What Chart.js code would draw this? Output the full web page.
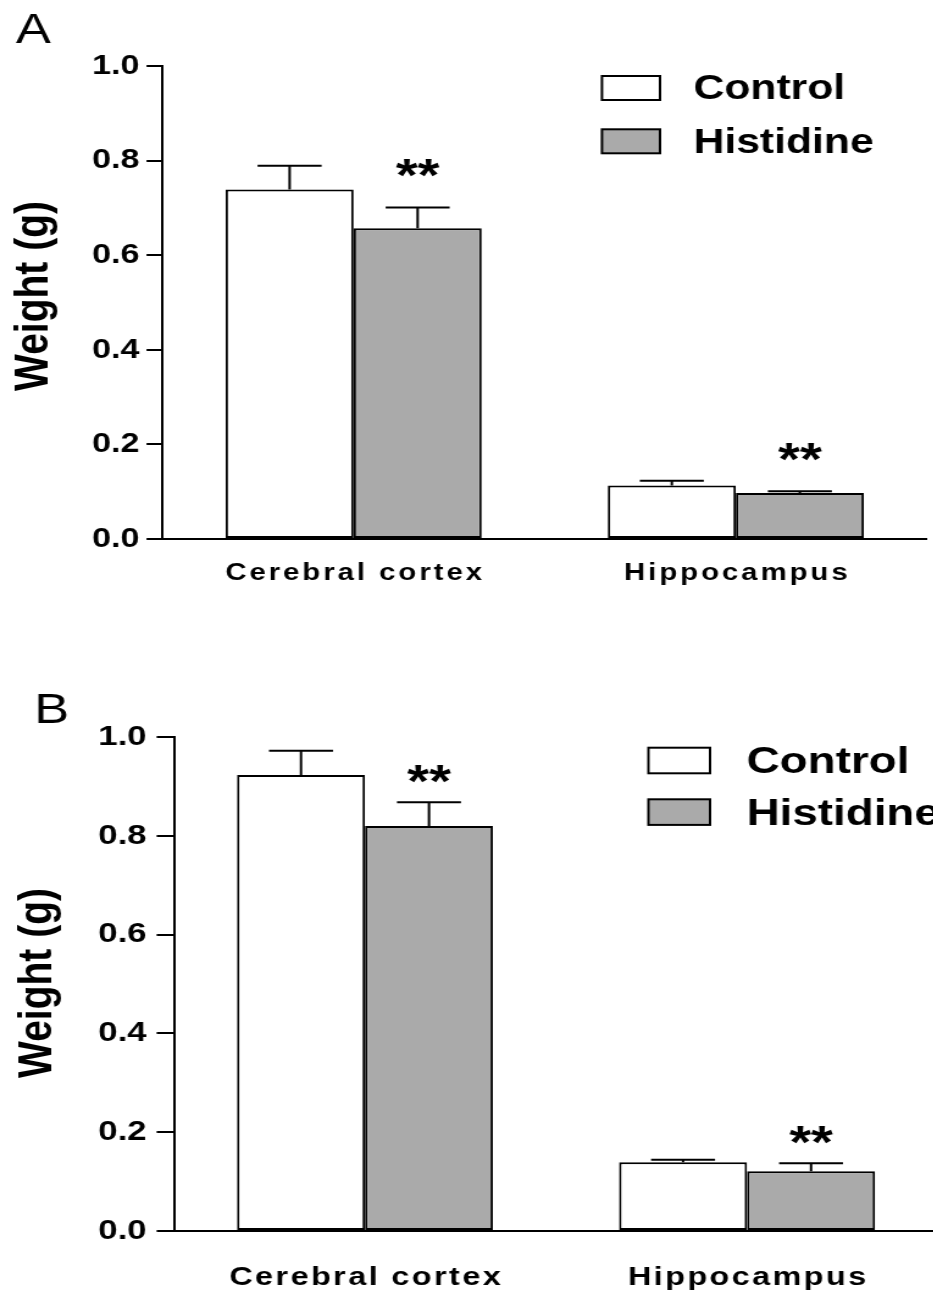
<!DOCTYPE html>
<html>
<head>
<meta charset="utf-8">
<script src="https://cdn.jsdelivr.net/npm/chart.js@4.4.1/dist/chart.umd.min.js"></script>
<style>
  html, body { margin:0; padding:0; background:#fff; width:933px; height:1295px; overflow:hidden; }
  .wrap { position:absolute; left:0; transform:scaleX(1.22); transform-origin:0 0; }
  #wrapA { top:0; width:765px; height:640px; }
  #wrapB { top:650px; width:770px; height:645px; }
</style>
</head>
<body>
<div class="wrap" id="wrapA"><canvas id="chartA"></canvas></div>
<div class="wrap" id="wrapB"><canvas id="chartB"></canvas></div>
<script>
'use strict';
// ---- data ----
var categories  = ['Cerebral cortex', 'Hippocampus'];
var seriesNames = ['Control', 'Histidine'];
var yTicks      = [0, 0.2, 0.4, 0.6, 0.8, 1.0];

// panel A
var controlA      = [0.739, 0.113];
var controlSemA   = [0.050, 0.010];
var histidineA    = [0.657, 0.097];
var histidineSemA = [0.044, 0.004];
var sigA          = ['**', '**'];

// panel B
var controlB      = [0.923, 0.139];
var controlSemB   = [0.049, 0.005];
var histidineB    = [0.820, 0.121];
var histidineSemB = [0.048, 0.016];
var sigB          = ['**', '**'];

var FONT = "'Liberation Sans', Arial, sans-serif";

// layout per panel (canvas units, before the horizontal stretch)
var layoutA = {
  letter:'A', letterX:13.1, letterY:43.3,
  top:66, right:5.2, xHeight:101, axisX:133.2, tickLen:13.1, tickPad:5.7, tickFont:28,
  catY:580, catFont:24, catSpace:2.45,
  titleX:39.3, titleY:296, titleFont:39,
  starFont:46, starGap:16,
  legX:493.4, legW:47.6, legH:24, legRows:[76, 129.3], legBase:23.4, legTextX:568.4, legFont:35
};
var layoutB = {
  letter:'B', letterX:27.9, letterY:73.3,
  top:87, right:1.1, xHeight:64, axisX:142.6, tickLen:14.2, tickPad:8.2, tickFont:28.5,
  catY:635, catFont:26.5, catSpace:2.0,
  titleX:42.2, titleY:333, titleFont:39,
  starFont:46, starGap:5,
  legX:531.5, legW:50.5, legH:25.6, legRows:[97.7, 149.3], legBase:25.2, legTextX:612, legFont:37.5
};

function spacedText(ctx, str, cx, y, sp) {
  var w = 0, i;
  for (i = 0; i < str.length; i++) w += ctx.measureText(str[i]).width;
  w += sp * (str.length - 1);
  var x = cx - w / 2;
  ctx.textAlign = 'left';
  for (i = 0; i < str.length; i++) {
    ctx.fillText(str[i], x, y);
    x += ctx.measureText(str[i]).width + sp;
  }
}

function annotPlugin(L) {
  return {
    id: 'annot',
    afterDatasetsDraw: function(chart) {
      var ctx = chart.ctx, ys = chart.scales.y;
      ctx.save();
      ctx.strokeStyle = '#000'; ctx.fillStyle = '#000'; ctx.lineWidth = 2;
      chart.data.datasets.forEach(function(ds, i) {
        chart.getDatasetMeta(i).data.forEach(function(bar, j) {
          var top = ys.getPixelForValue(ds.data[j]);
          var cap = ys.getPixelForValue(ds.data[j] + ds.sem[j]);
          var hw = bar.width / 4;
          ctx.beginPath();
          ctx.moveTo(bar.x, top); ctx.lineTo(bar.x, cap);
          ctx.moveTo(bar.x - hw, cap); ctx.lineTo(bar.x + hw, cap);
          ctx.stroke();
          if (ds.sig && ds.sig[j]) {
            ctx.font = 'bold ' + L.starFont + 'px ' + FONT;
            ctx.textAlign = 'center'; ctx.textBaseline = 'alphabetic';
            ctx.fillText(ds.sig[j], bar.x, cap - L.starGap);
          }
        });
      });
      ctx.restore();
    },
    afterDraw: function(chart) {
      var ctx = chart.ctx, xs = chart.scales.x;
      ctx.save();
      ctx.fillStyle = '#000'; ctx.textBaseline = 'alphabetic';
      // panel letter
      ctx.font = '43px ' + FONT;
      ctx.textAlign = 'left';
      ctx.fillText(L.letter, L.letterX, L.letterY);
      // category labels
      ctx.font = 'bold ' + L.catFont + 'px ' + FONT;
      categories.forEach(function(c, i) {
        spacedText(ctx, c, xs.getPixelForValue(i), L.catY, L.catSpace);
      });
      // y title
      ctx.save();
      ctx.translate(L.titleX, L.titleY);
      ctx.rotate(-Math.PI / 2);
      ctx.font = 'bold ' + L.titleFont + 'px ' + FONT;
      ctx.textAlign = 'center';
      ctx.fillText('Weight (g)', 0, 0);
      ctx.restore();
      // legend
      ctx.font = 'bold ' + L.legFont + 'px ' + FONT;
      ctx.textAlign = 'left';
      ctx.lineWidth = 2; ctx.strokeStyle = '#000';
      chart.data.datasets.forEach(function(ds, i) {
        var ty = L.legRows[i];
        ctx.fillStyle = ds.backgroundColor;
        ctx.fillRect(L.legX, ty, L.legW, L.legH);
        ctx.strokeRect(L.legX, ty, L.legW, L.legH);
        ctx.fillStyle = '#000';
        ctx.fillText(ds.label, L.legTextX, ty + L.legBase);
      });
      ctx.restore();
    }
  };
}

function makePanel(id, L, control, controlSem, hist, histSem, sig) {
  return new Chart(document.getElementById(id), {
    type: 'bar',
    data: {
      labels: categories,
      datasets: [
        {label: seriesNames[0], data: control, sem: controlSem, backgroundColor:'#ffffff', borderColor:'#000', borderWidth:2, borderSkipped:false},
        {label: seriesNames[1], data: hist, sem: histSem, sig: sig, backgroundColor:'#aaaaaa', borderColor:'#000', borderWidth:2, borderSkipped:false}
      ]
    },
    options: {
      responsive: true, maintainAspectRatio: false, animation: false,
      categoryPercentage: 0.67, barPercentage: 1,
      layout: {padding: {left:0, top:L.top, right:L.right, bottom:0}},
      plugins: {legend:{display:false}, tooltip:{enabled:false}},
      scales: {
        x: {
          offset: true,
          grid: {display:false},
          border: {color:'#000', width:2},
          ticks: {display:false},
          afterFit: function(s) { s.height = L.xHeight; }
        },
        y: {
          min: 0, max: 1,
          grid: {drawOnChartArea:false, color:'#000', lineWidth:2, tickLength:L.tickLen},
          border: {color:'#000', width:2},
          ticks: {color:'#000', padding:L.tickPad, font:{family:FONT, size:L.tickFont, weight:'bold'},
                  callback: function(v) { return Number(v).toFixed(1); }},
          afterBuildTicks: function(s) { s.ticks = yTicks.map(function(v) { return {value:v}; }); },
          afterFit: function(s) { s.width = L.axisX; }
        }
      }
    },
    plugins: [annotPlugin(L)]
  });
}

makePanel('chartA', layoutA, controlA, controlSemA, histidineA, histidineSemA, sigA);
makePanel('chartB', layoutB, controlB, controlSemB, histidineB, histidineSemB, sigB);
</script>
</body>
</html>
